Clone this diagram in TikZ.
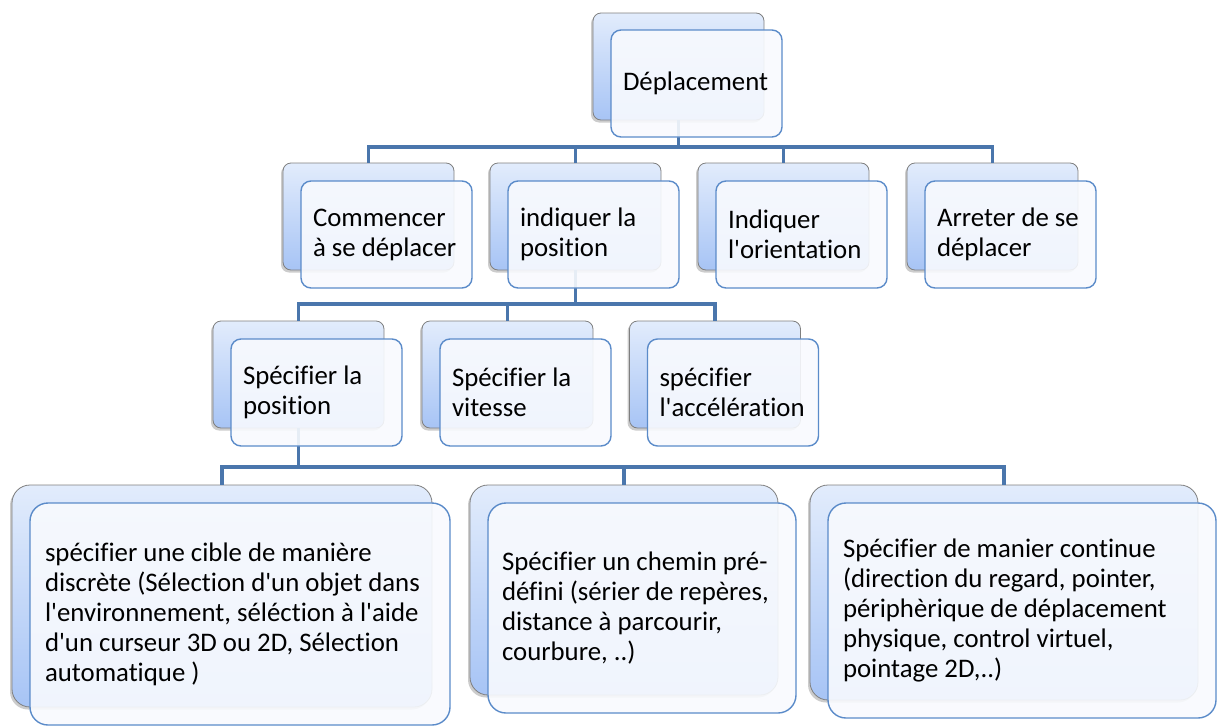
\documentclass[tikz,border=0pt]{standalone}
\usepackage{fontspec}
\setmainfont{Carlito}[Ligatures={TeXOff,NoCommon}]
\usetikzlibrary{shadows,calc}

\definecolor{linkblue}{HTML}{4A76AC}
\definecolor{frontline}{HTML}{5B8BC9}
\definecolor{frontfill}{HTML}{F8FAFE}
\definecolor{backtop}{HTML}{E2ECFC}
\definecolor{backbot}{HTML}{A7C4F5}
\definecolor{backline}{HTML}{7F7F7F}

\tikzset{
  bk/.style={draw=backline, line width=0.8pt, rounded corners=8pt,
    top color=backtop, bottom color=backbot,
    drop shadow={shadow xshift=-2pt, shadow yshift=-2.5pt, opacity=0.4}},
  fr/.style={draw=frontline, line width=1.4pt, rounded corners=10pt,
    fill=frontfill, fill opacity=0.9, text opacity=1, align=left,
    font=\fontsize{26.8}{30}\selectfont, inner xsep=12pt,
    execute at begin node={\spaceskip=0pt\xspaceskip=0pt\relax}},
  small/.style={minimum width=171pt, minimum height=107pt},
  smalltext/.style={small, text width=147pt},
  big/.style={rounded corners=18pt},
  link/.style={draw=linkblue, line width=3.8pt}
}

\begin{document}
\begin{tikzpicture}[x=1pt,y=-1pt]
  \useasboundingbox (0,0) rectangle (1218,726);
  % back boxes
  \node[bk,small] (depB) at (678.5,66.5) {};
  \node[bk,small] (comB) at (368.5,216.5) {};
  \node[bk,small] (posB) at (575.5,216.5) {};
  \node[bk,small] (oriB) at (783.5,216.5) {};
  \node[bk,small] (arrB) at (992.5,216.5) {};
  \node[bk,small] (spB) at (298.5,374.5) {};
  \node[bk,small] (viB) at (507.5,374.5) {};
  \node[bk,small] (acB) at (715,374.5) {};
  \node[bk,big,minimum width=420pt,minimum height=222pt] (cibB) at (222,596) {};
  \node[bk,big,minimum width=308pt,minimum height=210pt] (cheB) at (624,590) {};
  \node[bk,big,minimum width=388pt,minimum height=215pt] (conB) at (1004,592.5) {};
  % connectors
  \coordinate (bus1) at (679,147);
  \coordinate (bus2) at (575.5,304);
  \coordinate (bus3) at (298,467);
  \foreach \c in {comB,posB,oriB,arrB}
    \draw[link] (depB.south) -- (depB.south |- bus1) -| (\c.north);
  \foreach \c in {spB,viB,acB}
    \draw[link] (posB.south) -- (posB.south |- bus2) -| (\c.north);
  \foreach \c in {cibB,cheB,conB}
    \draw[link] (spB.south) -- (spB.south |- bus3) -| (\c.north);
  % front boxes
  \node[fr,smalltext] (dep) at ([shift={(18,17)}]depB) {Déplacement};
  \node[fr,smalltext] (com) at ([shift={(18,18)}]comB) {Commencer\\à se déplacer};
  \node[fr,smalltext] (pos) at ([shift={(18,18)}]posB) {indiquer la\\position};
  \node[fr,smalltext] (ori) at ([shift={(18,18)}]oriB) {Indiquer\\l'orientation};
  \node[fr,smalltext] (arr) at ([shift={(18,18)}]arrB) {Arreter de se\\déplacer};
  \node[fr,smalltext] (sp) at ([shift={(18,18)}]spB) {Spécifier la\\position};
  \node[fr,smalltext] (vi) at ([shift={(18,18)}]viB) {Spécifier la\\vitesse};
  \node[fr,smalltext] (ac) at ([shift={(18,18)}]acB) {spécifier\\l'accélération};
  \node[fr,big,inner xsep=15pt,text width=390pt,minimum width=420pt,minimum height=222pt] (cib)
    at ([shift={(18,18)}]cibB) {spécifier une cible de manière\\discrète (Sélection d'un objet dans\\l'environnement, séléction à l'aide\\d'un curseur 3D ou 2D, Sélection\\automatique )};
  \node[fr,big,inner xsep=14pt,text width=280pt,minimum width=308pt,minimum height=210pt] (che)
    at ([shift={(18,18)}]cheB) {Spécifier un chemin pré-\\défini (sérier de repères,\\distance à parcourir,\\courbure, ..)};
  \node[fr,big,inner xsep=15pt,text width=358pt,minimum width=388pt,minimum height=215pt] (con)
    at ([shift={(18,18)}]conB) {Spécifier de manier continue\\(direction du regard, pointer,\\périphèrique de déplacement\\physique, control virtuel,\\pointage 2D,..)};
\end{tikzpicture}
\end{document}
